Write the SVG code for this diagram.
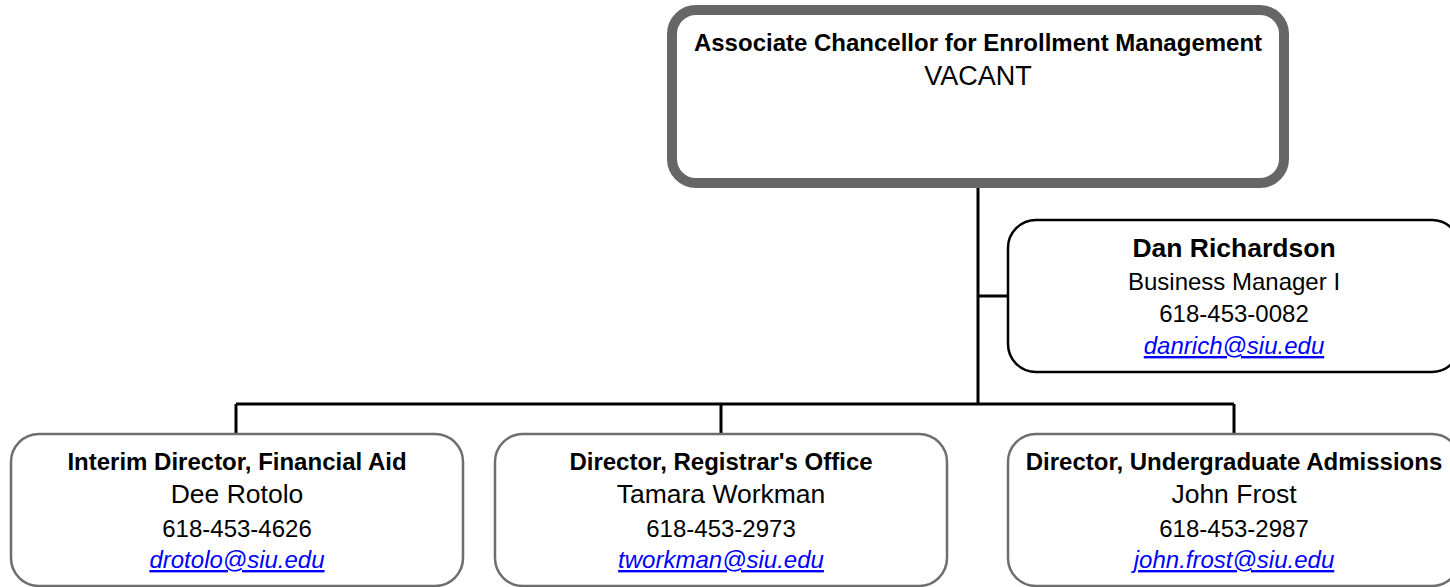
<svg xmlns="http://www.w3.org/2000/svg" width="1450" height="587" viewBox="0 0 1450 587">
<style>
text{font-family:"Liberation Sans",Arial,sans-serif;text-anchor:middle;fill:#000}
.t{font-weight:bold;font-size:24px}
.nb{font-weight:bold;font-size:26.5px}
.n{font-size:26.5px}
.p{font-size:24px}
.e{font-size:24px;font-style:italic;fill:#0000ff;text-decoration:underline}
.box{fill:#fff;stroke:#6e6e6e;stroke-width:2.5}
.conn{stroke:#000;stroke-width:3;fill:none}
</style>
<rect width="1450" height="587" fill="#fff"/>
<g id="connectors">
<path class="conn" d="M978 186V404M978 296H1008M236 404H1234M236 404V434M721 404V434M1234 404V434"/>
</g>
<g id="top">
<rect x="672" y="10" width="612" height="173" rx="24" fill="#fff" stroke="#666" stroke-width="10"/>
<text class="t" x="978" y="51">Associate Chancellor for Enrollment Management</text>
<text class="n" x="978" y="85" style="font-size:27px">VACANT</text>
</g>
<g id="dan">
<rect x="1008" y="220" width="452" height="152" rx="28" fill="#fff" stroke="#000" stroke-width="2.5"/>
<text class="nb" x="1234" y="257">Dan Richardson</text>
<text class="p" x="1234" y="290">Business Manager I</text>
<text class="p" x="1234" y="322">618-453-0082</text>
<text class="e" x="1234" y="354">danrich@siu.edu</text>
</g>
<g id="finaid">
<rect class="box" x="11" y="434" width="452" height="152" rx="28"/>
<text class="t" x="237" y="470">Interim Director, Financial Aid</text>
<text class="n" x="237" y="503">Dee Rotolo</text>
<text class="p" x="237" y="537">618-453-4626</text>
<text class="e" x="237" y="568">drotolo@siu.edu</text>
</g>
<g id="registrar">
<rect class="box" x="495" y="434" width="452" height="152" rx="28"/>
<text class="t" x="721" y="470">Director, Registrar's Office</text>
<text class="n" x="721" y="503">Tamara Workman</text>
<text class="p" x="721" y="537">618-453-2973</text>
<text class="e" x="721" y="568">tworkman@siu.edu</text>
</g>
<g id="admissions">
<rect class="box" x="1008" y="434" width="452" height="152" rx="28"/>
<text class="t" x="1234" y="470">Director, Undergraduate Admissions</text>
<text class="n" x="1234" y="503">John Frost</text>
<text class="p" x="1234" y="537">618-453-2987</text>
<text class="e" x="1234" y="568">john.frost@siu.edu</text>
</g>
</svg>
